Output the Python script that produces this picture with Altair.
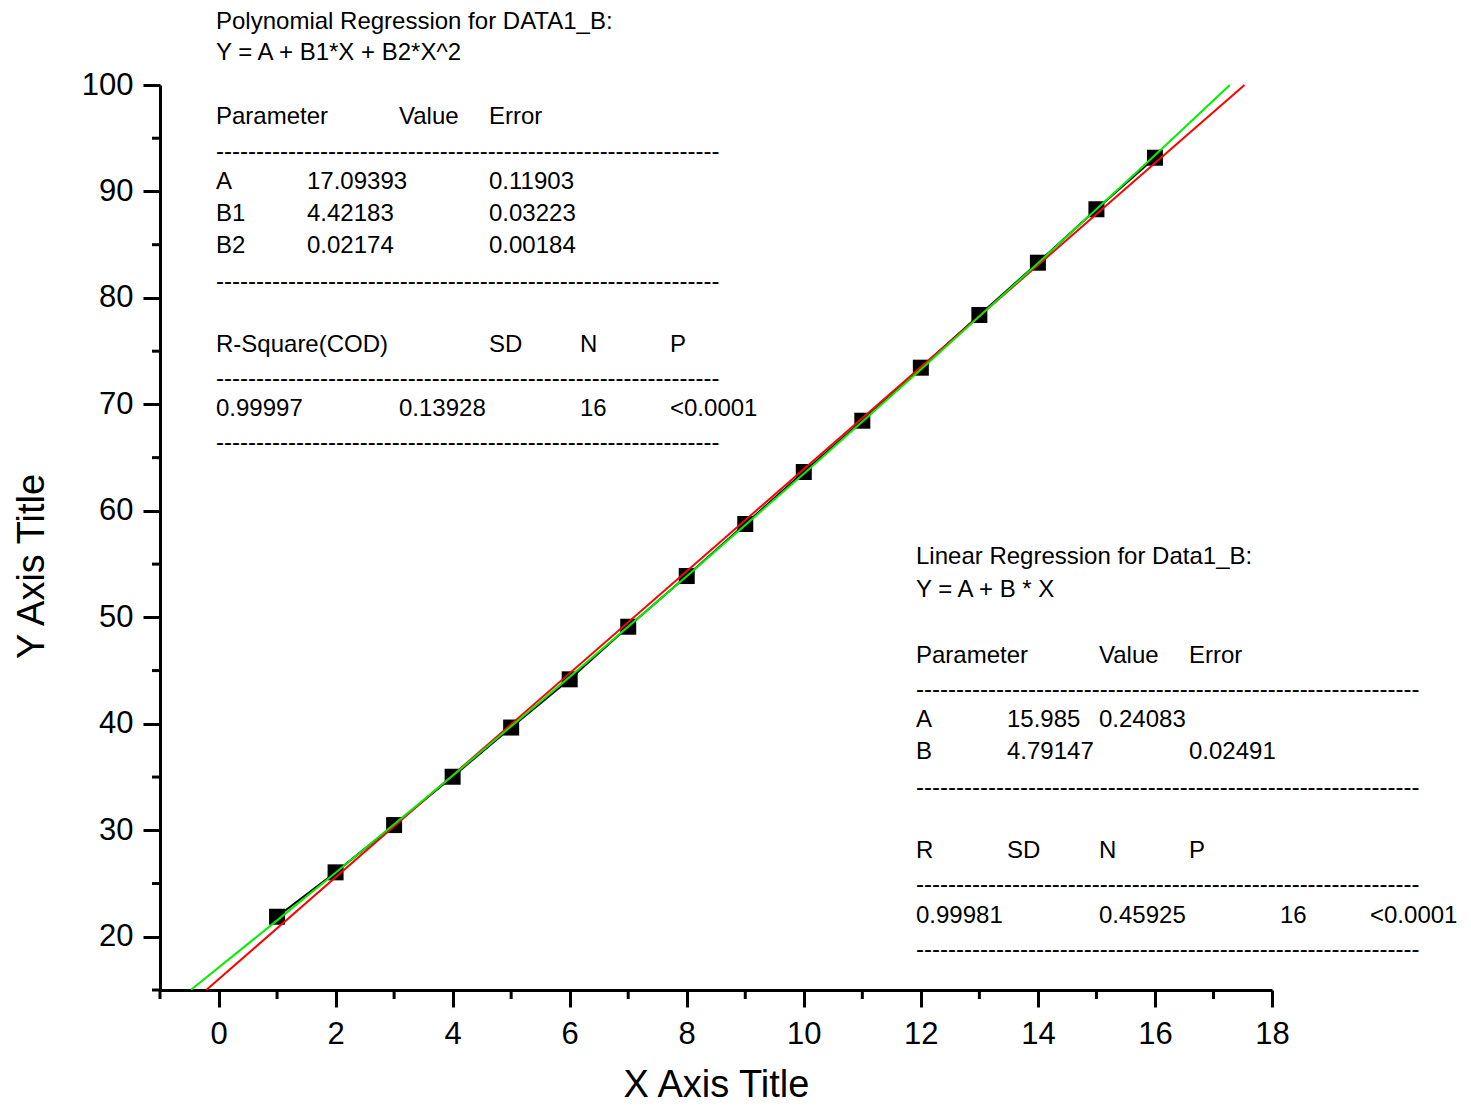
import altair as alt
import pandas as pd

# ---------------- data ----------------
x_data = list(range(1, 17))
y_data = [21.88, 26.05, 30.49, 35.03, 39.65, 44.18, 49.12, 53.88,
          58.77, 63.65, 68.47, 73.45, 78.40, 83.31, 88.33, 93.17]

# linear fit (red)
lin_x = [-0.21, 17.53]
lin_y = [15.0, 100.0]

# polynomial fit (green)
poly_x = [-0.47, 1, 2, 4, 6, 8, 10, 12, 14, 16, 17.28]
poly_y = [15.02, 21.54, 26.02, 35.13, 44.41, 53.86, 63.49, 73.29, 83.26, 93.41, 100.0]

x_major = [0, 2, 4, 6, 8, 10, 12, 14, 16, 18]
x_minor = [-1, 1, 3, 5, 7, 9, 11, 13, 15, 17]
y_major = [20, 30, 40, 50, 60, 70, 80, 90, 100]
y_minor = [15, 25, 35, 45, 55, 65, 75, 85, 95]

poly_title = "Polynomial Regression for DATA1_B:"
poly_eq = "Y = A + B1*X + B2*X^2"
poly_head = ["Parameter", "Value", "Error"]
poly_params = [["A", "17.09393", "0.11903"],
               ["B1", "4.42183", "0.03223"],
               ["B2", "0.02174", "0.00184"]]
poly_stats_head = ["R-Square(COD)", "SD", "N", "P"]
poly_stats = ["0.99997", "0.13928", "16", "<0.0001"]

lin_title = "Linear Regression for Data1_B:"
lin_eq = "Y = A + B * X"
lin_head = ["Parameter", "Value", "Error"]
lin_params = [["A", "15.985", "0.24083"],
              ["B", "4.79147", "0.02491"]]
lin_stats_head = ["R", "SD", "N", "P"]
lin_stats = ["0.99981", "0.45925", "16", "<0.0001"]

dashes = "-" * 63

# ---------------- layout ----------------
W, H = 1112, 905
X0, Y0 = 160, 85
XDOM = [-1, 18]
YDOM = [15, 100]
FONT = "Liberation Sans"


def to_data(px, py):
    x = XDOM[0] + (px - X0) / W * (XDOM[1] - XDOM[0])
    y = YDOM[1] - (py - Y0) / H * (YDOM[1] - YDOM[0])
    return x, y


items = []


def add(t, px, py):
    x, y = to_data(px, py)
    items.append({"x": x, "y": y, "text": t})


tc = [216, 307, 399, 489, 580, 670]
add(poly_title, tc[0], 22)
add(poly_eq, tc[0], 53)
for t, ci in zip(poly_head, [0, 2, 3]):
    add(t, tc[ci], 117)
add(dashes, tc[0], 152)
for r, row in enumerate(poly_params):
    for t, ci in zip(row, [0, 1, 3]):
        add(t, tc[ci], 182 + 32 * r)
add(dashes, tc[0], 282)
for t, ci in zip(poly_stats_head, [0, 3, 4, 5]):
    add(t, tc[ci], 345)
add(dashes, tc[0], 379)
for t, ci in zip(poly_stats, [0, 2, 4, 5]):
    add(t, tc[ci], 409)
add(dashes, tc[0], 443)

bc = [916, 1007, 1099, 1189, 1280, 1370]
add(lin_title, bc[0], 557)
add(lin_eq, bc[0], 590)
for t, ci in zip(lin_head, [0, 2, 3]):
    add(t, bc[ci], 656)
add(dashes, bc[0], 690)
for t, ci in zip(lin_params[0], [0, 1, 2]):
    add(t, bc[ci], 720)
for t, ci in zip(lin_params[1], [0, 1, 3]):
    add(t, bc[ci], 752)
add(dashes, bc[0], 788)
for t, ci in zip(lin_stats_head, [0, 1, 2, 3]):
    add(t, bc[ci], 851)
add(dashes, bc[0], 885)
for t, ci in zip(lin_stats, [0, 2, 4, 5]):
    add(t, bc[ci], 916)
add(dashes, bc[0], 950)

pts = pd.DataFrame({"x": x_data, "y": y_data})
lin_df = pd.DataFrame({"x": lin_x, "y": lin_y})
poly_df = pd.DataFrame({"x": poly_x, "y": poly_y})
xminor_df = pd.DataFrame({"x": x_minor})
yminor_df = pd.DataFrame({"y": y_minor})
text_df = pd.DataFrame(items)

xscale = alt.Scale(domain=XDOM, nice=False, zero=False)
yscale = alt.Scale(domain=YDOM, nice=False, zero=False)

x_axis = alt.Axis(
    values=x_major, title="X Axis Title", format="d",
    labelFlush=False, labelOverlap=False, labelPadding=12,
    titleY=106, titleBaseline="alphabetic")
y_axis = alt.Axis(
    values=y_major, title="Y Axis Title", format="d",
    labelFlush=False, labelOverlap=False, labelPadding=10,
    titleX=-117, titleY=481, titleBaseline="alphabetic")

xe = alt.X("x:Q", scale=xscale, axis=x_axis)
ye = alt.Y("y:Q", scale=yscale, axis=y_axis)

conn = alt.Chart(pts).mark_line(color="black", strokeWidth=2).encode(x=xe, y=ye)
points = alt.Chart(pts).mark_square(color="black", size=256, opacity=1).encode(x=xe, y=ye)
red = alt.Chart(lin_df).mark_line(color="#ff0000", strokeWidth=2).encode(x=xe, y=ye)
green = alt.Chart(poly_df).mark_line(color="#00f000", strokeWidth=2).encode(x=xe, y=ye)
xminor = alt.Chart(xminor_df).mark_rule(color="black", strokeWidth=3).encode(
    x=xe, y=alt.value(H), y2=alt.value(H + 9))
yminor = alt.Chart(yminor_df).mark_rule(color="black", strokeWidth=3).encode(
    y=ye, x=alt.value(0), x2=alt.value(-8))
texts = alt.Chart(text_df).mark_text(
    font=FONT, fontSize=24, align="left", baseline="middle", color="black"
).encode(x=xe, y=ye, text="text:N")

chart = alt.layer(conn, points, red, green, xminor, yminor, texts).properties(
    width=W, height=H,
    padding={"left": 152, "top": 77, "right": 191, "bottom": 115},
    autosize=alt.AutoSizeParams(type="none"),
).configure_view(stroke=None).configure_axis(
    grid=False,
    domainColor="black", domainWidth=3,
    tickColor="black", tickWidth=3, tickSize=17,
    labelFont=FONT, labelFontSize=31, labelColor="black",
    titleFont=FONT, titleFontSize=38, titleFontWeight="normal", titleColor="black",
)

chart.save("out.html", embed_options={"renderer": "svg", "actions": False})
